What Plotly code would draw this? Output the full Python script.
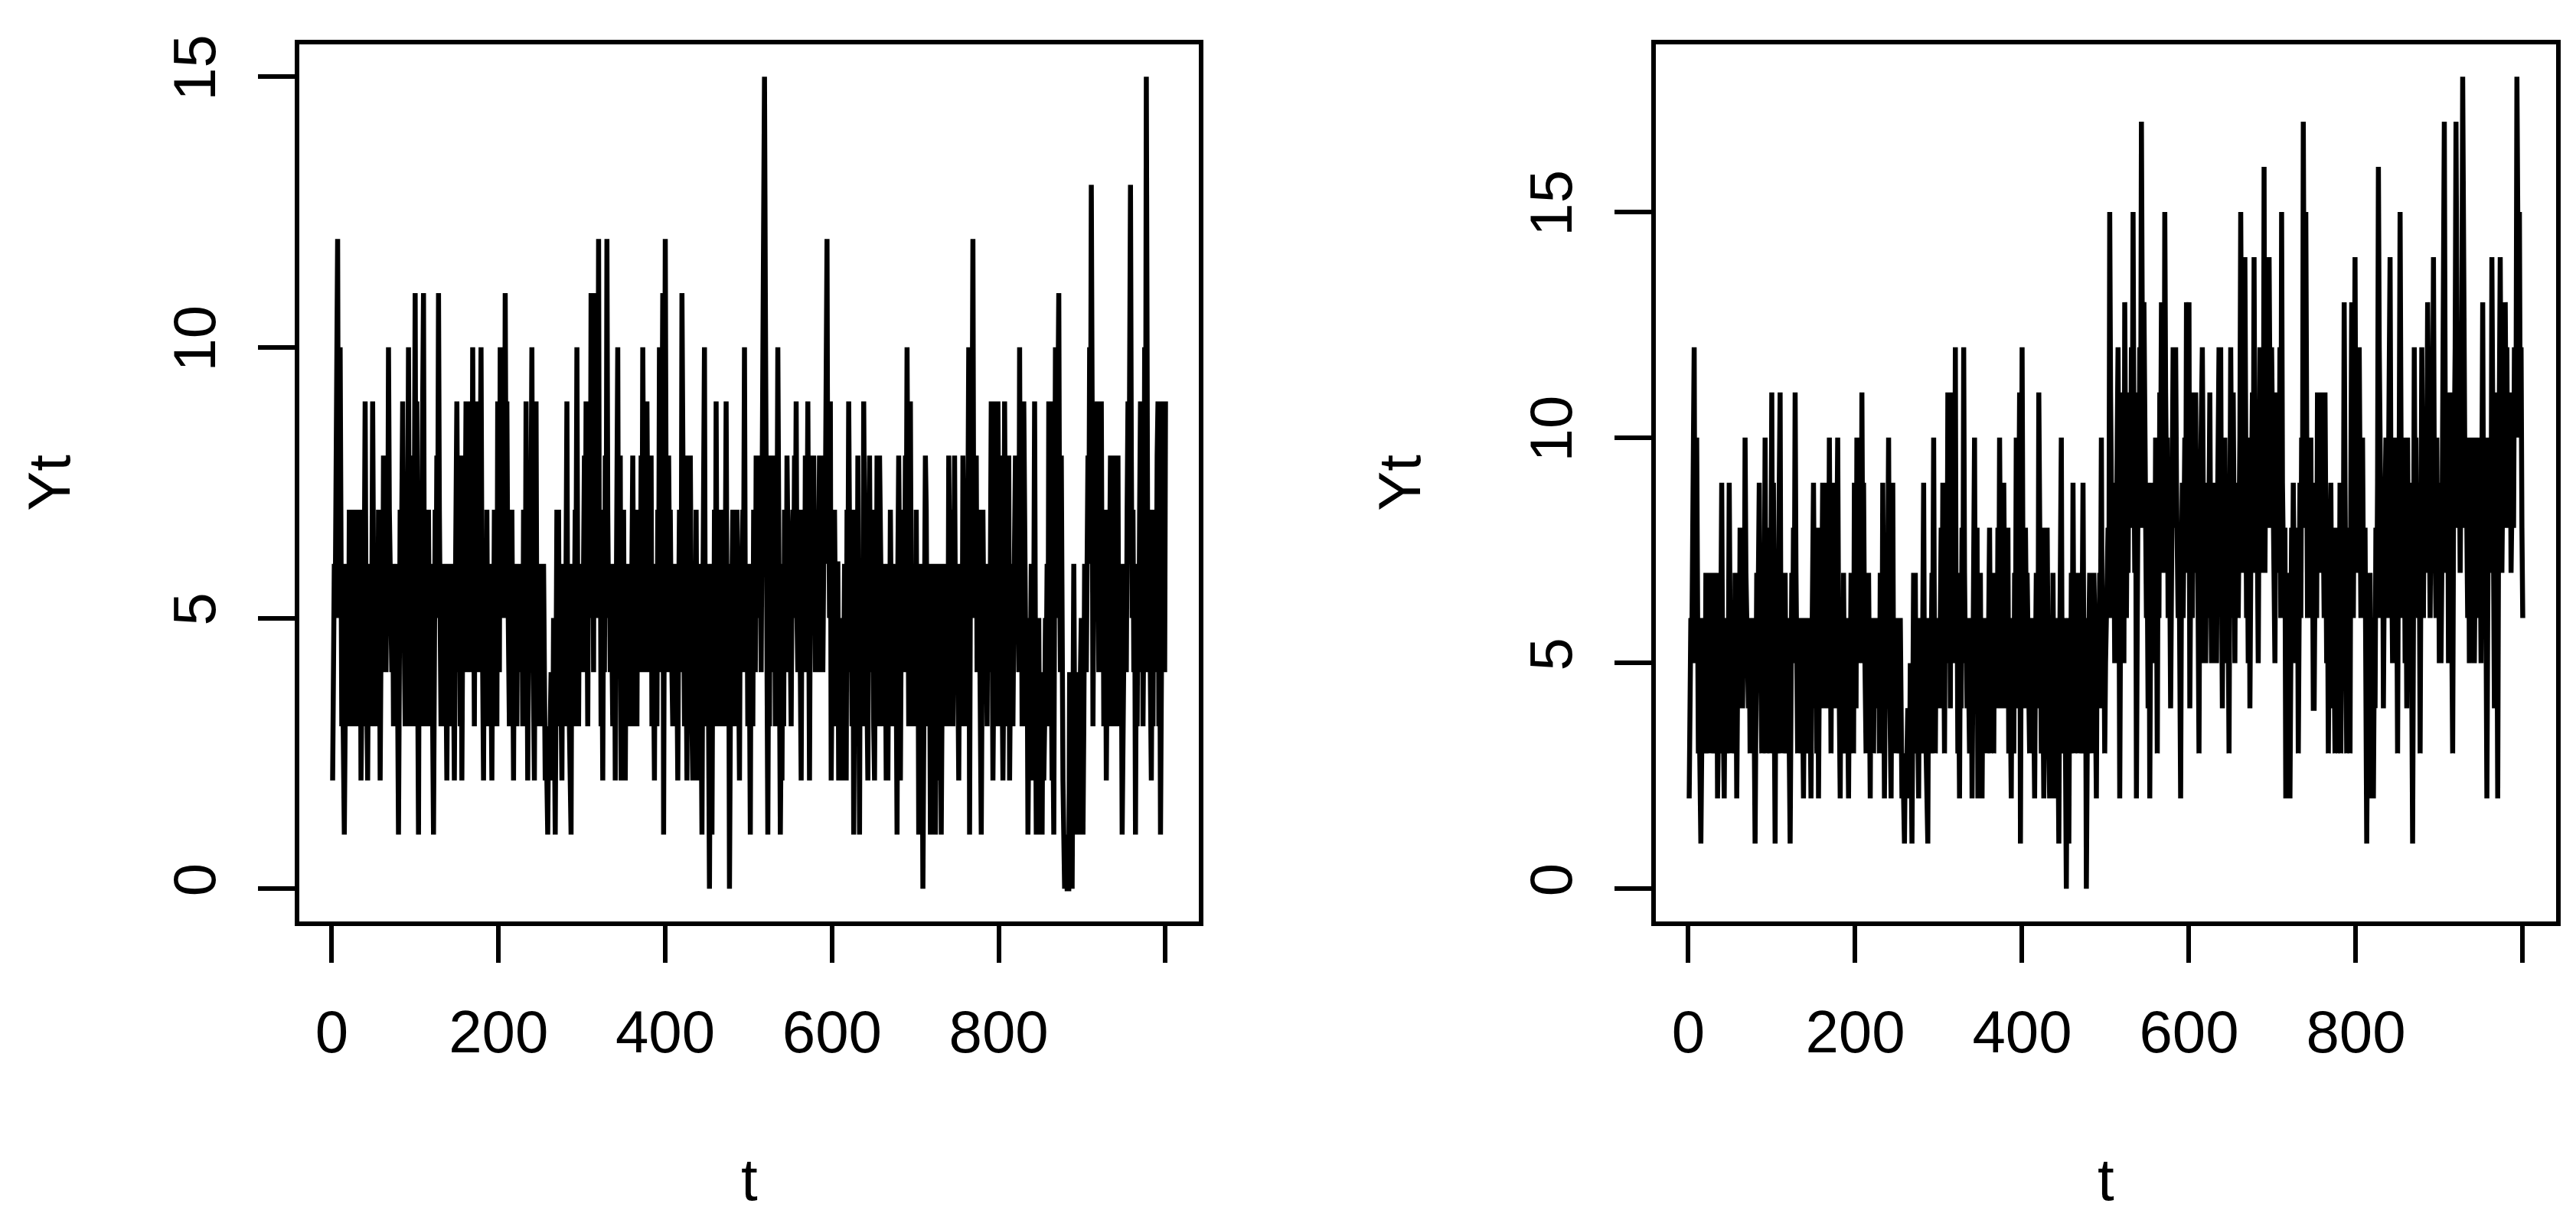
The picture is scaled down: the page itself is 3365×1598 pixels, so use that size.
import plotly.graph_objects as go

# first 500 observations look the same in both panels
y_first_half = [
    2, 5, 6, 5, 8, 11, 12, 6, 5, 10, 6, 3, 4, 3, 1, 3, 6, 5, 6, 3,
    7, 3, 7, 4, 7, 3, 6, 5, 7, 4, 6, 3, 5, 7, 2, 4, 5, 3, 6, 9,
    5, 4, 2, 5, 6, 4, 3, 5, 9, 6, 3, 5, 6, 4, 3, 7, 6, 2, 5, 7,
    4, 8, 5, 7, 4, 6, 5, 10, 7, 6, 5, 4, 6, 3, 5, 4, 3, 6, 2, 1,
    4, 7, 5, 8, 9, 6, 5, 3, 7, 4, 6, 10, 5, 3, 8, 6, 4, 3, 7, 11,
    5, 9, 4, 1, 6, 5, 3, 7, 9, 11, 5, 3, 6, 4, 5, 7, 4, 3, 6, 5,
    3, 1, 4, 7, 5, 8, 6, 11, 7, 5, 3, 6, 5, 4, 3, 6, 4, 2, 5, 3,
    6, 4, 5, 3, 6, 4, 2, 5, 7, 9, 6, 4, 7, 3, 8, 2, 5, 6, 4, 7,
    9, 5, 7, 8, 4, 9, 6, 5, 10, 6, 3, 7, 5, 9, 6, 4, 5, 7, 10, 6,
    4, 2, 6, 5, 3, 7, 4, 5, 3, 6, 4, 2, 5, 4, 7, 6, 5, 3, 9, 6,
    4, 10, 7, 5, 6, 8, 5, 11, 7, 9, 6, 4, 3, 6, 5, 7, 3, 2, 6, 4,
    5, 3, 6, 5, 6, 4, 5, 6, 3, 7, 5, 4, 9, 6, 2, 5, 7, 4, 6, 10,
    5, 3, 2, 6, 9, 4, 5, 3, 6, 4, 3, 6, 5, 6, 4, 2, 3, 2, 1, 3,
    2, 3, 4, 3, 2, 5, 3, 1, 4, 7, 6, 7, 3, 5, 4, 2, 6, 4, 3, 5,
    6, 9, 4, 5, 3, 2, 1, 6, 4, 3, 5, 7, 6, 10, 5, 3, 6, 4, 5, 6,
    4, 6, 8, 5, 9, 6, 3, 7, 9, 5, 11, 6, 8, 4, 11, 7, 5, 9, 6, 12,
    5, 7, 3, 5, 2, 6, 4, 8, 5, 12, 7, 5, 6, 4, 6, 5, 3, 4, 6, 2,
    5, 6, 10, 4, 7, 8, 2, 5, 2, 7, 3, 2, 5, 6, 4, 5, 3, 6, 4, 7,
    8, 5, 3, 6, 4, 3, 7, 5, 6, 4, 8, 5, 10, 6, 4, 7, 5, 9, 6, 4,
    5, 6, 8, 3, 5, 4, 2, 6, 5, 3, 7, 5, 10, 6, 4, 8, 11, 1, 6, 12,
    7, 5, 4, 8, 6, 7, 5, 4, 3, 6, 5, 4, 6, 3, 2, 5, 7, 6, 4, 11,
    6, 5, 3, 7, 4, 2, 8, 5, 6, 8, 4, 3, 2, 6, 5, 3, 7, 4, 2, 5,
    3, 6, 4, 1, 5, 7, 10, 4, 6, 3, 5, 3, 0, 4, 6, 1, 5, 3, 7, 4,
    9, 5, 3, 7, 4, 6, 3, 5, 7, 4, 3, 6, 9, 5, 4, 6, 0, 3, 5, 6,
    7, 4, 6, 3, 5, 7, 6, 3, 2, 6, 4, 5, 7, 6, 10, 5, 4, 6, 3, 5,
]

y_left_second_half = [
    4, 1, 6, 5, 3, 7, 5, 4, 8, 6, 7, 5, 8, 6, 4, 7, 9, 11, 15, 11,
    6, 4, 1, 5, 3, 8, 6, 4, 8, 5, 7, 3, 8, 6, 10, 5, 4, 1, 3, 2,
    6, 3, 7, 5, 4, 8, 7, 5, 6, 4, 3, 6, 7, 5, 8, 6, 9, 5, 4, 7,
    6, 4, 2, 6, 5, 7, 4, 8, 5, 6, 9, 4, 2, 6, 8, 5, 7, 8, 6, 4,
    5, 7, 4, 6, 8, 6, 5, 4, 4, 6, 8, 7, 9, 12, 6, 8, 5, 9, 2, 5,
    6, 4, 7, 5, 3, 6, 6, 2, 4, 5, 3, 2, 5, 4, 6, 3, 2, 7, 5, 9,
    6, 4, 5, 3, 7, 1, 4, 6, 5, 3, 8, 5, 1, 6, 4, 5, 3, 9, 6, 4,
    5, 3, 2, 6, 8, 5, 4, 7, 6, 3, 2, 5, 4, 8, 6, 3, 8, 7, 5, 4,
    6, 3, 4, 5, 2, 6, 2, 5, 4, 7, 5, 3, 6, 4, 5, 3, 4, 1, 6, 8,
    6, 2, 5, 6, 7, 4, 5, 8, 6, 10, 4, 3, 6, 9, 5, 3, 6, 4, 5, 3,
    7, 4, 6, 1, 5, 6, 3, 4, 0, 3, 5, 8, 7, 4, 6, 3, 5, 1, 4, 6,
    3, 5, 6, 1, 4, 5, 2, 6, 3, 5, 1, 4, 6, 3, 5, 4, 6, 5, 3, 8,
    6, 4, 5, 7, 3, 6, 8, 5, 4, 6, 3, 2, 5, 4, 6, 3, 8, 5, 4, 6,
    5, 3, 7, 10, 1, 6, 5, 8, 12, 6, 7, 5, 8, 4, 6, 7, 5, 3, 1, 4,
    7, 5, 6, 4, 5, 3, 6, 4, 5, 6, 9, 5, 2, 4, 9, 6, 3, 5, 9, 6,
    3, 8, 5, 6, 2, 4, 9, 6, 5, 3, 4, 8, 2, 5, 6, 4, 3, 5, 6, 8,
    5, 8, 6, 4, 10, 5, 7, 3, 4, 9, 6, 4, 3, 5, 1, 3, 5, 4, 6, 3,
    2, 5, 9, 4, 1, 3, 1, 5, 2, 4, 3, 1, 4, 2, 3, 5, 4, 6, 3, 9,
    5, 9, 4, 2, 3, 1, 6, 10, 5, 7, 9, 11, 6, 4, 8, 3, 2, 1, 0, 1,
    0, 0, 0, 0, 4, 0, 1, 0, 2, 6, 3, 1, 4, 1, 3, 2, 1, 4, 5, 2,
    1, 3, 6, 5, 4, 6, 8, 6, 10, 7, 13, 9, 3, 6, 5, 8, 7, 9, 5, 4,
    8, 6, 9, 5, 7, 3, 5, 6, 2, 5, 7, 4, 6, 8, 3, 5, 4, 8, 6, 3,
    5, 7, 8, 3, 6, 4, 5, 1, 4, 3, 6, 5, 4, 7, 9, 6, 11, 13, 8, 5,
    7, 4, 6, 1, 5, 3, 6, 4, 7, 9, 6, 8, 3, 5, 10, 6, 15, 9, 4, 7,
    4, 3, 2, 5, 3, 7, 4, 6, 5, 8, 9, 3, 6, 1, 5, 7, 9, 6, 4, 9,
]

y_right_second_half = [
    6, 6, 8, 6, 15, 11, 9, 7, 6, 8, 5, 9, 7, 10, 12, 8, 2, 6, 11, 9,
    7, 5, 13, 8, 6, 9, 7, 10, 11, 8, 12, 9, 15, 10, 7, 11, 2, 6, 9, 8,
    12, 9, 17, 10, 8, 13, 11, 9, 6, 7, 4, 9, 2, 6, 8, 5, 7, 9, 6, 10,
    7, 3, 8, 6, 11, 9, 13, 8, 10, 7, 15, 11, 9, 10, 6, 8, 7, 4, 8, 9,
    12, 8, 10, 12, 9, 7, 6, 8, 5, 2, 7, 9, 6, 8, 10, 7, 13, 9, 11, 13,
    4, 8, 10, 6, 9, 11, 8, 11, 7, 9, 6, 3, 8, 10, 12, 12, 9, 5, 7, 5,
    8, 9, 6, 9, 11, 7, 5, 8, 6, 5, 9, 7, 5, 8, 10, 12, 9, 12, 7, 4,
    8, 6, 10, 7, 5, 9, 6, 3, 8, 12, 9, 6, 11, 8, 5, 9, 7, 9, 6, 8,
    10, 15, 9, 7, 11, 8, 14, 9, 6, 8, 5, 10, 4, 7, 9, 11, 8, 14, 9, 7,
    10, 6, 5, 9, 12, 8, 11, 9, 7, 16, 7, 10, 8, 14, 9, 14, 11, 8, 12, 10,
    8, 6, 5, 9, 11, 7, 10, 8, 12, 6, 15, 9, 7, 6, 8, 2, 5, 7, 2, 6,
    2, 5, 8, 6, 9, 7, 8, 5, 6, 8, 3, 7, 9, 6, 10, 8, 17, 12, 9, 15,
    11, 6, 9, 7, 9, 10, 6, 8, 4, 4, 7, 9, 6, 11, 8, 11, 9, 11, 7, 9,
    8, 6, 11, 8, 5, 7, 3, 6, 8, 9, 6, 7, 4, 5, 3, 8, 6, 3, 7, 5,
    9, 3, 6, 8, 7, 13, 9, 5, 3, 8, 6, 7, 3, 9, 13, 8, 6, 10, 14, 9,
    7, 10, 8, 12, 9, 6, 8, 10, 7, 6, 8, 5, 1, 4, 6, 3, 7, 5, 2, 6,
    2, 5, 4, 8, 6, 9, 16, 12, 10, 8, 6, 9, 4, 7, 8, 10, 8, 6, 9, 11,
    14, 9, 7, 5, 8, 10, 6, 9, 7, 3, 8, 10, 15, 9, 6, 10, 7, 9, 5, 8,
    4, 10, 7, 9, 6, 8, 5, 1, 6, 12, 8, 10, 7, 9, 6, 8, 3, 7, 12, 9,
    6, 10, 8, 7, 9, 13, 11, 8, 6, 9, 7, 10, 14, 9, 8, 6, 10, 7, 9, 5,
    8, 5, 7, 10, 12, 17, 11, 9, 7, 10, 5, 9, 11, 8, 6, 3, 8, 10, 12, 17,
    11, 9, 8, 10, 7, 9, 12, 18, 14, 9, 8, 10, 8, 6, 10, 5, 8, 10, 10, 7,
    9, 5, 8, 10, 7, 9, 6, 10, 8, 5, 9, 13, 8, 6, 10, 7, 2, 6, 9, 8,
    10, 7, 14, 8, 10, 4, 9, 11, 7, 2, 8, 12, 14, 10, 7, 9, 11, 8, 13, 10,
    12, 8, 10, 9, 11, 7, 9, 10, 8, 12, 10, 11, 18, 14, 12, 15, 10, 12, 8, 6,
]

y_left = y_first_half + y_left_second_half
y_right = y_first_half + y_right_second_half
t = list(range(1, len(y_left) + 1))

x_tickvals = [0, 200, 400, 600, 800, 1000]
x_ticktext = ['0', '200', '400', '600', '800', '']
y_tickvals = [0, 5, 10, 15]

FONT = 'Liberation Sans, Arial, Helvetica, sans-serif'
FS = 78

# page is 3365x1598, the html body keeps its default 8px margin
OFF = 8
W = 3365 - 2 * OFF
H = 1598 - 2 * OFF


def px_x(p):
    return (p - OFF) / W


def px_y(p):
    return 1 - (p - OFF) / H


def r_range(vals):
    lo, hi = min(vals), max(vals)
    pad = (hi - lo) * 0.04
    return [lo - pad, hi + pad]


fig = go.Figure()
fig.add_trace(go.Scatter(x=t, y=y_left, mode='lines',
                         line=dict(color='black', width=6.5),
                         xaxis='x', yaxis='y', showlegend=False))
fig.add_trace(go.Scatter(x=t, y=y_right, mode='lines',
                         line=dict(color='black', width=6.5),
                         xaxis='x2', yaxis='y2', showlegend=False))

common_x = dict(
    tickvals=x_tickvals, ticktext=x_ticktext,
    showline=True, mirror=True, linecolor='black', linewidth=6,
    ticks='outside', ticklen=48, tickwidth=6, tickcolor='black',
    showgrid=False, zeroline=False, ticklabelstandoff=24,
    tickfont=dict(family=FONT, size=FS, color='black'),
)
common_y = dict(
    tickvals=y_tickvals, tickangle=-90,
    showline=True, mirror=True, linecolor='black', linewidth=6,
    ticks='outside', ticklen=48, tickwidth=6, tickcolor='black',
    showgrid=False, zeroline=False, ticklabelstandoff=25,
    tickfont=dict(family=FONT, size=FS, color='black'),
)

y_dom = [px_y(1200.7), px_y(46)]
left_dom = [px_x(391), px_x(1566)]
right_dom = [px_x(2163), px_x(3339)]

fig.update_layout(
    width=W, height=H,
    margin=dict(l=0, r=0, t=0, b=0),
    paper_bgcolor='white', plot_bgcolor='white',
    xaxis=dict(domain=left_dom, range=r_range(t), anchor='y', **common_x),
    yaxis=dict(domain=y_dom, range=r_range(y_left), anchor='x', **common_y),
    xaxis2=dict(domain=right_dom, range=r_range(t), anchor='y2', **common_x),
    yaxis2=dict(domain=y_dom, range=r_range(y_right), anchor='x2', **common_y),
    font=dict(family=FONT, size=FS, color='black'),
)

# axis titles placed like R's mtext
for cx, yx in [((left_dom[0] + left_dom[1]) / 2, px_x(64)),
               ((right_dom[0] + right_dom[1]) / 2, px_x(1828))]:
    fig.add_annotation(text='t', x=cx, y=px_y(1541), xref='paper', yref='paper',
                       showarrow=False, xanchor='center', yanchor='middle',
                       font=dict(family=FONT, size=FS, color='black'))
    fig.add_annotation(text='Yt', x=yx, y=sum(y_dom) / 2, xref='paper', yref='paper',
                       showarrow=False, textangle=-90, xanchor='center', yanchor='middle',
                       font=dict(family=FONT, size=FS, color='black'))

fig.write_html("out.html")
